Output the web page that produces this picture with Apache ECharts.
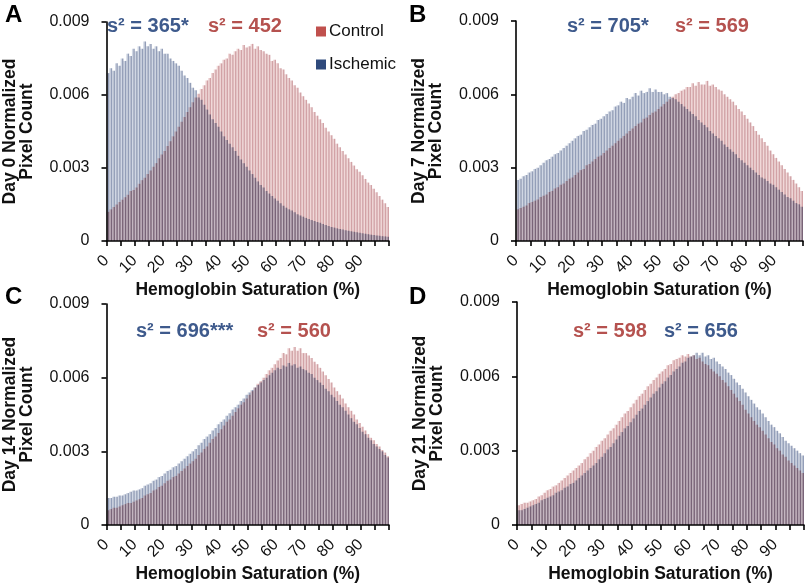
<!DOCTYPE html>
<html><head><meta charset="utf-8">
<script src="https://cdn.jsdelivr.net/npm/echarts@6/dist/echarts.min.js"></script>
<style>html,body{margin:0;padding:0;background:#fff}#c{width:807px;height:584px}</style>
</head><body><div id="c"></div>
<script>
// Normalized pixel counts, in units of 1e-4, one value per 1% saturation bin (0..99)
const day0Ischemic = [
69,71,70,73,72, 75,74,77,76,79, 78,80,79,82,80, 81,79,80,78,79,
77,77,75,74,73, 72,70,68,67,65, 63,62,59,58,56, 54,52,50,48.5,47,
45,43,41.5,40,38.5, 37,35,33.5,32,30.5, 29,27.5,26,24.5,23, 22,20.5,19.5,18.5,17.5,
16.5,15.5,14.5,13.7,13, 12.5,11.8,11,10.5,10, 9.5,9,8.6,8.2,7.8, 7.5,7,6.6,6.2,5.8,
5.5,5.2,4.9,4.7,4.4, 4.2,4,3.8,3.6,3.4, 3.2,3,2.8,2.6,2.5, 2.3,2.2,2,1.9,1.7];
const day0Control = [
12,13,14,15,16, 17,18,19,20.5,21, 22,23.5,25,26,27.5, 29,30.5,32,34,35.5,
37,39,41,43,45, 47,49,51,53,55, 57,59,60.5,62.5,64, 66,67,69,70.5,72,
73,74.5,75,77,76.5, 78,79,78.5,80.5,79.5, 80,81,79,80,78.5, 78,77,76.5,74,74.5,
73,71,70.5,68.5,67, 66,64,63,61,59.5, 58,56.5,55,53,51.5, 50,48.5,46.5,45,43.5,
42,40,38.5,37,35.5, 34,32.5,31,29.5,28.5, 27,25.5,24,23,21.5, 20,18.5,17,15.5,14];
const day7Ischemic = [
25,25.5,26.5,27,28, 28.5,29.5,30,31,32, 33,33.5,34.5,35.5,36, 37,38,39,40,41,
42,43,43.5,45,45.5, 46.5,47.5,48,49.5,50, 51,52,53,53.5,55, 55.5,57,56.5,58.5,58,
59,60.5,59.5,61.5,60.5, 61,62.5,61,62,61, 61,60,60.5,59,58.5, 58,57,56,55,54,
53,52,51,49.5,48.5, 47.5,46.5,45,44,43, 42,41,39.5,38.5,37.5, 36.5,35.5,34,33,32,
31,30,29,28,27, 26,25.5,24.5,23.5,23, 22,21,20,19,18, 17.5,16.5,15.5,15,14];
const day7Control = [
13,13.5,14,14.5,15.5, 16,16.5,17,18,18.5, 19,20,20.5,21.5,22, 23,23.5,24.5,25.5,26,
27,28,29,29.5,31, 31.5,32.5,33.5,34.5,35, 36,37,38,39,40, 41,42,43,44,45,
46,47,48,48.5,50, 50.5,51.5,52.5,53,54, 55,56,57,58,59, 60,60.5,61.5,62,63,
63,64.5,63.5,65,64, 64,65.5,63.5,64,63, 62,61.5,60,59,58, 57,55.5,54,53,51.5,
50,48.5,47,45,43.5, 42,40.5,39,37,35.5, 34,32.5,31,29.5,28, 26.5,25,23.5,22,20.5];
const day14Ischemic = [
11,11,11.5,11.5,12, 12,12.5,13,13.5,14, 14,14.5,15,16,16.5, 17,18,18.5,19.5,20,
21,22,22.5,23.5,24, 25,26,27,28,29, 30,31,32.5,33.5,35, 36,37,38.5,39.5,41,
42,43,44.5,45.5,47, 48,49,50.5,51.5,53, 54,55,56,57,58, 59,60,61,62,63,
64,63.5,65,64.5,66, 65,65.5,64,64.5,63.5, 63,62,61.5,60,59, 58,57,55.5,54.5,53,
52,50.5,49,48,46.5, 45,43.5,42,41,39.5, 38,37,35.5,34.5,33, 32,31,30,28.5,27.5];
const day14Control = [
6,6.5,7,7,7.5, 8,8.5,9,9,9.5, 10,10.5,11,12,12.5, 13,14,14.5,15.5,16,
17,18,18.5,19.5,20, 21,22,23,24,25, 26,27,28.5,29.5,31, 32,33.5,35,36,37.5,
39,40.5,42,43,44.5, 46,47.5,49,50,51.5, 53,54.5,56,57.5,58.5, 60,61.5,63,64,65.5,
67,68,70,69.5,72, 71,72.5,71,72,70, 70,69,68,66.5,65.5, 64,62.5,61,59.5,58,
56,54.5,53,51.5,49.5, 48,46.5,45,43,41.5, 40,38.5,37,35.5,34.5, 33,32,30.5,29.5,28];
const day21Ischemic = [
6,6,6.5,7,7.5, 8,8.5,9,10,10.5, 11,11.5,12,13,13.5, 14,15,15.5,16.5,17,
18,19,20,21,22, 23,24,25,26.5,27.5, 29,30.5,31.5,33,34.5, 36,37.5,39,40,41.5,
43,44.5,46,47,48.5, 50,51.5,53,54,55.5, 57,58,59.5,60.5,62, 63,64,65.5,66,67.5,
68,68.5,69.5,68.5,69.5, 68,68.5,67,67.5,66, 65,64,63,61.5,60.5, 59,57.5,56.5,55,53.5,
52,50.5,49,47.5,46.5, 45,43.5,42,40.5,39.5, 38,37,35.5,34,33, 32,31,30,29,28];
const day21Control = [
8,8.5,9,9,9.5, 10,10.5,11.5,12,13, 14,14.5,15.5,16,17, 18,19,20,21,22,
23,24,25,26.5,27.5, 29,30,31.5,32.5,34, 35,36.5,38,39,40.5, 42,43.5,45,46,47.5,
49,50.5,52,53,54.5, 56,57,58.5,59.5,61, 62,63,64.5,65,66.5, 67,67.5,68.5,68,69,
68,68.5,67,67.5,66, 65,64.5,63,62,61, 60,58.5,57.5,56,54.5, 53,51.5,50,48.5,46.5,
45,43.5,42,40.5,39.5, 38,36.5,35,33.5,32.5, 31,30,28.5,27.5,26, 25,24,23,22,21];

const yTicks = ['0', '0.003', '0.006', '0.009'];
const xTickLabels = ['0','10','20','30','40','50','60','70','80','90'];
const varianceLabels = [
  [{t:'s² = 365*', c:'blue'}, {t:'s² = 452', c:'red'}],
  [{t:'s² = 705*', c:'blue'}, {t:'s² = 569', c:'red'}],
  [{t:'s² = 696***', c:'blue'}, {t:'s² = 560', c:'red'}],
  [{t:'s² = 598', c:'red'}, {t:'s² = 656', c:'blue'}]
];
const panelLetters = ['A','B','C','D'];
const yNames = ['Day 0 Normalized\nPixel Count','Day 7 Normalized\nPixel Count','Day 14 Normalized\nPixel Count','Day 21 Normalized\nPixel Count'];

// ---- layout & style ----
const FONT = "'Liberation Sans', Arial, Helvetica, sans-serif";
const TXT_BLUE = '#3e5a8c', TXT_RED = '#b5524f';
const BLUE = {light:'#d0d7e4', dark:'#939eb8', legend:'#2f4a7c'};
const RED  = {light:'#f1d8d8', dark:'#d2a2a6', legend:'#c0504d'};
const grids = [
  {left:102, top:22, width:287, height:219},
  {left:516, top:21, width:287, height:220},
  {left:102, top:304, width:287, height:227},
  {left:517, top:302, width:287, height:229}
];
const letterPos = [[5,3],[409,3],[5,285],[409,285]];
const varPos = [[[107,26],[208,26]], [[567,26],[675,26]], [[136,331],[257,331]], [[573,331],[664,331]]];
const panelData = [
  [day0Control, day0Ischemic], [day7Control, day7Ischemic],
  [day14Control, day14Ischemic], [day21Control, day21Ischemic]
];

function renderer(col) {
  return function (params, api) {
    const bin = api.value(0), v = api.value(1);
    const p0 = api.coord([bin, 0]);
    const p1 = api.coord([bin + 1, v]);
    const x0 = p0[0], w = p1[0] - p0[0], yb = p0[1], yt = p1[1];
    return {type:'group', children:[
      {type:'rect', shape:{x:x0, y:yt, width:w*0.5, height:yb-yt}, style:{fill:col.light}},
      {type:'rect', shape:{x:x0 + w*0.5, y:yt, width:w*0.5, height:yb-yt}, style:{fill:col.dark}}
    ]};
  };
}

const axisLineStyle = {color:'#000', width:1.6};
const xAxes = [], yAxes = [], series = [], graphics = [];
grids.forEach((g, k) => {
  xAxes.push({
    gridIndex:k, type:'value', min:0, max:100, interval:5,
    axisLine:{show:true, onZero:false, lineStyle:axisLineStyle},
    axisTick:{show:true, length:5, lineStyle:axisLineStyle},
    splitLine:{show:false},
    axisLabel:{rotate:45, fontSize:16, fontFamily:FONT, color:'#111', margin:17,
      formatter:(v) => xTickLabels.indexOf(String(v)) >= 0 ? String(v) : ''},
    name:'Hemoglobin Saturation (%)', nameLocation:'middle', nameGap:40,
    nameTextStyle:{fontSize:17.5, fontWeight:'bold', fontFamily:FONT, color:'#111'}
  });
  yAxes.push({
    gridIndex:k, type:'value', min:0, max:0.009, interval:0.003,
    axisLine:{show:true, lineStyle:axisLineStyle},
    axisTick:{show:true, length:5, lineStyle:axisLineStyle},
    splitLine:{show:false},
    axisLabel:{fontSize:16, fontFamily:FONT, color:'#111', margin:17,
      formatter:(v) => yTicks[Math.round(v / 0.003)]},
    name:yNames[k], nameLocation:'middle', nameRotate:90, nameGap:71,
    nameTextStyle:{fontSize:17.5, fontWeight:'bold', fontFamily:FONT, color:'#111', lineHeight:17, align:'center'}
  });
  const [ctrl, isch] = panelData[k];
  series.push({
    type:'custom', name:'Ischemic', xAxisIndex:k, yAxisIndex:k, clip:true,
    blendMode:'multiply',
    itemStyle:{color:BLUE.legend},
    encode:{x:0, y:1},
    data: isch.map((v, i) => [i, v * 1e-4]),
    renderItem: renderer(BLUE)
  });
  series.push({
    type:'custom', name:'Control', xAxisIndex:k, yAxisIndex:k, clip:true,
    blendMode:'multiply',
    itemStyle:{color:RED.legend},
    encode:{x:0, y:1},
    data: ctrl.map((v, i) => [i, v * 1e-4]),
    renderItem: renderer(RED)
  });
  graphics.push({type:'text', x:letterPos[k][0], y:letterPos[k][1],
    style:{text:panelLetters[k], font:'bold 24px ' + FONT, fill:'#000'}});
  varianceLabels[k].forEach((lab, j) => {
    graphics.push({type:'text', x:varPos[k][j][0], y:varPos[k][j][1],
      style:{text:lab.t, font:'bold 20px ' + FONT, fill: lab.c === 'blue' ? TXT_BLUE : TXT_RED, verticalAlign:'middle'}});
  });
});

const chart = echarts.init(document.getElementById('c'), null, {renderer:'canvas'});
chart.setOption({
  backgroundColor:'#ffffff',
  animation:false,
  grid: grids.map(g => Object.assign({containLabel:false}, g)),
  xAxis: xAxes, yAxis: yAxes, series: series,
  legend:{
    data:['Control','Ischemic'], orient:'vertical', left:311, top:18,
    itemWidth:10, itemHeight:10, itemGap:16, icon:'rect',
    textStyle:{fontSize:17, fontFamily:FONT, color:'#111', padding:[0,0,0,-2]},
    selectedMode:false
  },
  graphic: graphics
});
</script></body></html>
